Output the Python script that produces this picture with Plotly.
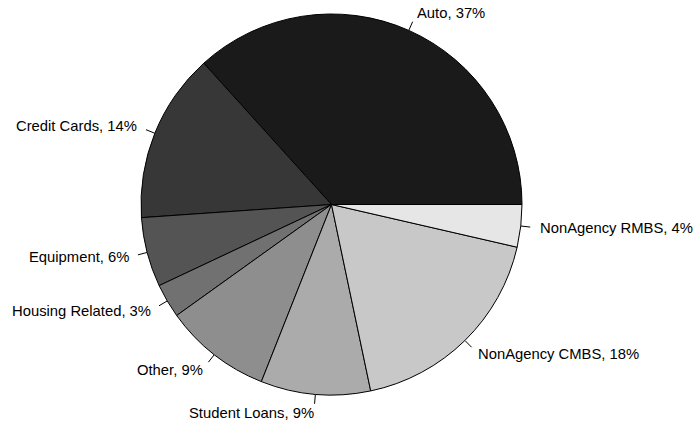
import math
import plotly.graph_objects as go

categories = ["Auto", "Credit Cards", "Equipment", "Housing Related", "Other",
              "Student Loans", "NonAgency CMBS", "NonAgency RMBS"]
values = [36.7, 14.4, 5.9, 2.9, 9.1, 9.3, 18.1, 3.6]
colors = ["#1A1A1A", "#373737", "#545454", "#717171", "#8E8E8E", "#ABABAB", "#C8C8C8", "#E6E6E6"]

W, H = 694, 424
cx, cy, R = 331.5, 204.5, 190.5  # pie centre (px from left/top of figure) and radius

total = sum(values)
# plotly (counterclockwise) places the END of the first slice at the rotation angle;
# start the first slice at 3 o'clock like base-R pie()
rotation = 90 - 360 * values[0] / total

fig = go.Figure()
fig.add_trace(go.Pie(
    labels=categories, values=values, sort=False, direction="counterclockwise",
    rotation=rotation, textinfo="none", hoverinfo="label+percent",
    marker=dict(colors=colors, line=dict(color="#000000", width=1)),
    domain=dict(x=[(cx - R) / W, (cx + R) / W], y=[(H - cy - R) / H, (H - cy + R) / H]),
    showlegend=False,
))

# unit-circle data axes aligned with the pie
xr = [-cx / R, (W - cx) / R]
yr = [-(H - cy) / R, cy / R]

cum = 0.0
annotations = []
for name, v in zip(categories, values):
    mid = 2 * math.pi * (cum + v / 2) / total
    cum += v
    c, s = math.cos(mid), math.sin(mid)
    fig.add_trace(go.Scatter(x=[c, 1.05 * c], y=[s, 1.05 * s], mode="lines",
                             line=dict(color="#000000", width=1), hoverinfo="skip",
                             showlegend=False))
    pct = round(100 * v / total)
    right = c >= 0
    annotations.append(dict(x=1.1 * c, y=1.1 * s, xref="x", yref="y",
                            text=f"{name}, {pct}%", showarrow=False, borderpad=0,
                            xanchor="left" if right else "right", yanchor="middle",
                            xshift=-1 if right else 1,
                            font=dict(family="Liberation Sans, Arial, sans-serif", size=14.8, color="#000000")))

fig.update_layout(
    width=W, height=H, margin=dict(l=0, r=0, t=0, b=0),
    paper_bgcolor="white", plot_bgcolor="rgba(0,0,0,0)",
    xaxis=dict(range=xr, visible=False, fixedrange=True),
    yaxis=dict(range=yr, visible=False, fixedrange=True),
    annotations=annotations,
)
fig.write_html("out.html", config={"displayModeBar": False},
               post_script="document.body.style.margin='0px';document.body.style.overflow='hidden';")
